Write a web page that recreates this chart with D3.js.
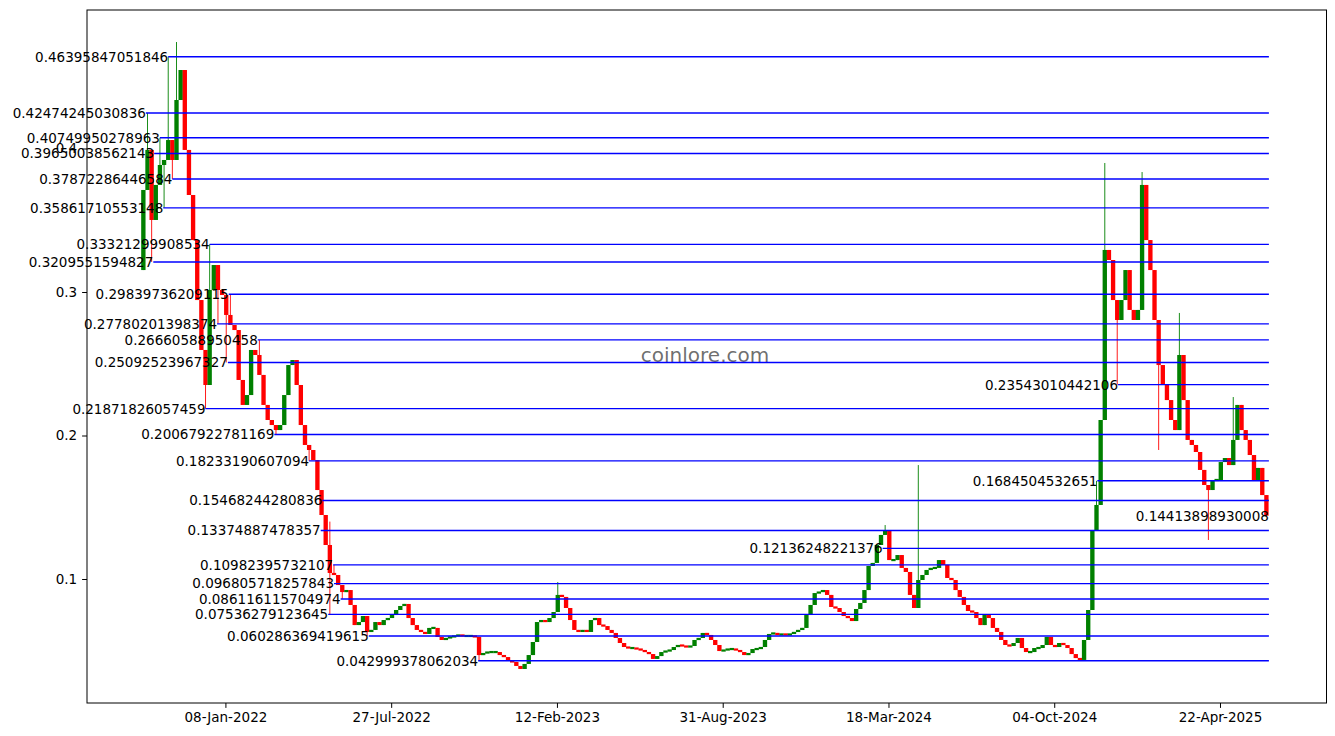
<!DOCTYPE html>
<html><head><meta charset="utf-8">
<script src="https://cdn.jsdelivr.net/npm/d3@7"></script>
<style>body{margin:0;background:#fff}</style>
</head><body>
<svg id="c" width="1335" height="736"></svg>
<script>
// ---------- data ----------
const startDate = "2021-10-01";
const stepDays = 5;
const firstOpen = 0.3153;
const closes = [
0.3711,0.3990,0.3502,0.3746,0.3885,0.3920,0.4059,0.3920,0.4338,0.4547,
0.3990,0.3676,0.3362,0.2944,0.2596,0.2352,0.3014,0.3188,0.3014,0.2979,
0.2840,0.2770,0.2735,0.2387,0.2213,0.2282,0.2596,0.2561,0.2422,0.2213,
0.2108,0.2073,0.2038,0.2073,0.2282,0.2491,0.2526,0.2352,0.2073,0.1934,
0.1899,0.1829,0.1620,0.1446,0.1237,0.1042,0.1028,0.0958,0.0909,0.0923,
0.0819,0.0679,0.0700,0.0742,0.0631,0.0645,0.0700,0.0679,0.0714,0.0728,
0.0749,0.0784,0.0812,0.0826,0.0728,0.0679,0.0645,0.0631,0.0617,0.0659,
0.0659,0.0596,0.0575,0.0589,0.0596,0.0603,0.0610,0.0603,0.0603,0.0603,
0.0596,0.0470,0.0484,0.0491,0.0491,0.0491,0.0470,0.0456,0.0429,0.0422,
0.0394,0.0373,0.0408,0.0470,0.0561,0.0700,0.0714,0.0700,0.0728,0.0770,
0.0889,0.0875,0.0798,0.0714,0.0645,0.0631,0.0645,0.0631,0.0714,0.0728,
0.0679,0.0672,0.0645,0.0624,0.0589,0.0554,0.0526,0.0519,0.0519,0.0512,
0.0505,0.0491,0.0477,0.0443,0.0463,0.0491,0.0498,0.0505,0.0526,0.0540,
0.0533,0.0526,0.0533,0.0575,0.0589,0.0624,0.0610,0.0575,0.0540,0.0498,
0.0505,0.0512,0.0512,0.0505,0.0491,0.0470,0.0484,0.0512,0.0512,0.0526,
0.0575,0.0617,0.0624,0.0610,0.0617,0.0610,0.0617,0.0631,0.0645,0.0659,
0.0749,0.0819,0.0902,0.0909,0.0923,0.0889,0.0805,0.0798,0.0770,0.0742,
0.0728,0.0707,0.0791,0.0833,0.0923,0.1091,0.1112,0.1237,0.1307,0.1341,
0.1132,0.1132,0.1167,0.1077,0.1049,0.0889,0.0798,0.0993,0.1028,0.1063,
0.1077,0.1077,0.1132,0.1098,0.1007,0.0993,0.0923,0.0875,0.0819,0.0777,
0.0770,0.0728,0.0679,0.0749,0.0728,0.0659,0.0631,0.0575,0.0540,0.0533,
0.0554,0.0589,0.0519,0.0491,0.0491,0.0519,0.0519,0.0540,0.0596,0.0540,
0.0526,0.0554,0.0540,0.0519,0.0477,0.0449,0.0436,0.0575,0.0784,0.1341,
0.1516,0.2108,0.3293,0.3223,0.2944,0.2805,0.2944,0.3153,0.2875,0.2805,
0.2875,0.3746,0.3362,0.3153,0.2805,0.2491,0.2352,0.2247,0.2108,0.2038,
0.2561,0.2247,0.1969,0.1934,0.1885,0.1760,0.1655,0.1620,0.1690,0.1690,
0.1815,0.1843,0.1794,0.1969,0.2213,0.2038,0.1969,0.1864,0.1690,0.1774,
0.1585,0.14413898930008
];
// extra wick extremes on particular days
const wickDates = ["2021-10-04","2021-10-13","2021-10-21","2021-10-25","2021-10-31","2021-11-05","2021-11-12",
  "2021-12-15","2021-12-20","2021-12-29","2022-01-11","2022-01-12","2022-02-16","2022-03-08","2022-04-19",
  "2022-05-05","2022-05-12","2022-05-18","2022-05-27","2022-06-30","2022-11-09","2023-02-12","2024-03-13",
  "2024-04-24","2024-11-25","2024-12-03","2024-12-20","2025-01-18","2025-02-05","2025-03-03","2025-04-07","2025-05-10"];
const wickHighs = [0.4247,0.3965,0.4075,null,0.4640,null,0.4742,
  null,0.3332,null,null,0.2984,0.2666,null,null,
  0.1547,0.1400,0.1098,null,null,null,0.0979,0.1376,
  0.1794,0.1684,0.3899,null,0.3836,null,0.2854,null,0.2268];
const wickLows = [null,0.3210,null,0.3586,null,0.3787,null,
  0.2187,null,0.2778,0.2509,null,null,0.2007,0.1823,
  null,0.0754,null,0.0861,0.0603,0.0430,null,null,
  null,null,null,0.2354,null,0.1899,null,0.1272,null];

const levelValues = [0.46395847051846,0.42474245030836,0.40749950278963,0.39650038562143,0.37872286446584,
  0.35861710553148,0.33321299908534,0.3209551594827,0.29839736209115,0.27780201398374,0.26660588950458,
  0.25092523967327,0.21871826057459,0.20067922781169,0.18233190607094,0.15468244280836,0.13374887478357,
  0.12136248221376,0.10982395732107,0.096805718257843,0.086116115704974,0.07536279123645,0.060286369419615,
  0.042999378062034,0.23543010442106,0.1684504532651,0.14413898930008];
const levelStarts = ["2021-10-31","2021-10-04","2021-10-21","2021-10-14","2021-11-05",
  "2021-10-25","2021-12-20","2021-10-13","2022-01-12","2021-12-29","2022-02-16",
  "2022-01-11","2021-12-15","2022-03-08","2022-04-19","2022-05-05","2022-05-03",
  "2024-03-11","2022-05-18","2022-05-19","2022-05-27","2022-05-12","2022-06-30",
  "2022-11-09","2024-12-20","2024-11-25","2025-06-20"];
const levelEnd = "2025-06-20";
const xTickLabels = ["08-Jan-2022","27-Jul-2022","12-Feb-2023","31-Aug-2023","18-Mar-2024","04-Oct-2024","22-Apr-2025"];
const yTickValues = [0.1,0.2,0.3,0.4];
const watermark = "coinlore.com";

// ---------- layout ----------
const L = 87, R = 1326.5, T = 10, B = 703;
const FONT = "DejaVu Sans, sans-serif";
const svg = d3.select("#c");
const parse = d3.utcParse("%Y-%m-%d");
const parseTick = d3.utcParse("%d-%b-%Y");
const DAY = 864e5;

const x = d3.scaleUtc()
  .domain([parse("2021-07-25"), new Date(parse("2025-08-28").getTime() + DAY/2)])
  .range([L, R]);
const y = d3.scaleLinear().domain([0.01359, 0.49652]).range([B, T]);

// build candles
const t0 = parse(startDate);
const candles = closes.map((c, i) => {
  const open = i === 0 ? firstOpen : closes[i-1];
  return {date: new Date(t0.getTime() + i*stepDays*DAY), open, close: c,
          high: Math.max(open, c), low: Math.min(open, c)};
});
wickDates.forEach((d, k) => {
  const idx = Math.round((parse(d) - t0) / (stepDays*DAY));
  const cd = candles[Math.max(0, Math.min(candles.length-1, idx))];
  if (wickHighs[k] != null) cd.high = Math.max(cd.high, wickHighs[k]);
  if (wickLows[k] != null) cd.low = Math.min(cd.low, wickLows[k]);
});

const up = "#008000", down = "#ff0000";
const bw = x(new Date(t0.getTime() + stepDays*DAY)) - x(t0) + 0.2;
const minH = 2.2;
const g = svg.append("g");
g.selectAll("line.wick").data(candles).join("line")
  .attr("x1", d => x(d.date)).attr("x2", d => x(d.date))
  .attr("y1", d => y(d.high)).attr("y2", d => y(d.low))
  .attr("stroke", d => d.close >= d.open ? up : down).attr("stroke-width", 0.9);
g.selectAll("rect.body").data(candles).join("rect")
  .attr("x", d => x(d.date) - bw/2).attr("width", bw)
  .attr("y", d => {
    const top = y(Math.max(d.open, d.close)), h = Math.abs(y(d.open) - y(d.close));
    return h < minH ? top - (minH - h)/2 : top;
  })
  .attr("height", d => Math.max(minH, Math.abs(y(d.open) - y(d.close))))
  .attr("fill", d => d.close >= d.open ? up : down);

// watermark
svg.append("text").attr("x", 705).attr("y", 362).attr("text-anchor", "middle")
  .attr("font-family", FONT).attr("font-size", 20).attr("fill", "#555").attr("fill-opacity", 0.85)
  .text(watermark);

// level lines
const levels = levelValues.map((v, i) => ({v, start: parse(levelStarts[i])}));
svg.append("g").selectAll("line").data(levels).join("line")
  .attr("x1", d => x(d.start)).attr("x2", x(parse(levelEnd)))
  .attr("y1", d => y(d.v)).attr("y2", d => y(d.v))
  .attr("stroke", "#0000ff").attr("stroke-width", 1.4);
svg.append("g").selectAll("text").data(levels).join("text")
  .attr("x", d => x(d.start)).attr("y", d => y(d.v) + 4.9)
  .attr("text-anchor", "end").attr("font-family", FONT).attr("font-size", 13.5).attr("fill", "#000")
  .text(d => String(d.v));

// axes
const xa = svg.append("g").attr("transform", `translate(0,${B})`)
  .call(d3.axisBottom(x).tickValues(xTickLabels.map(parseTick))
    .tickFormat(d3.utcFormat("%d-%b-%Y")).tickSize(4.9).tickPadding(4.2).tickSizeOuter(0));
const ya = svg.append("g").attr("transform", `translate(${L},0)`)
  .call(d3.axisLeft(y).tickValues(yTickValues).tickFormat(d3.format(".1f")).tickSize(4.9).tickPadding(4.9).tickSizeOuter(0));
[xa, ya].forEach(a => {
  a.select(".domain").remove();
  a.selectAll("text").attr("font-family", FONT).attr("font-size", 13.5).attr("fill", "#000");
  a.selectAll("line").attr("stroke", "#000").attr("stroke-width", 1);
});

// frame
svg.append("rect").attr("x", L).attr("y", T).attr("width", R - L).attr("height", B - T)
  .attr("fill", "none").attr("stroke", "#000").attr("stroke-width", 1);
</script>
</body></html>
